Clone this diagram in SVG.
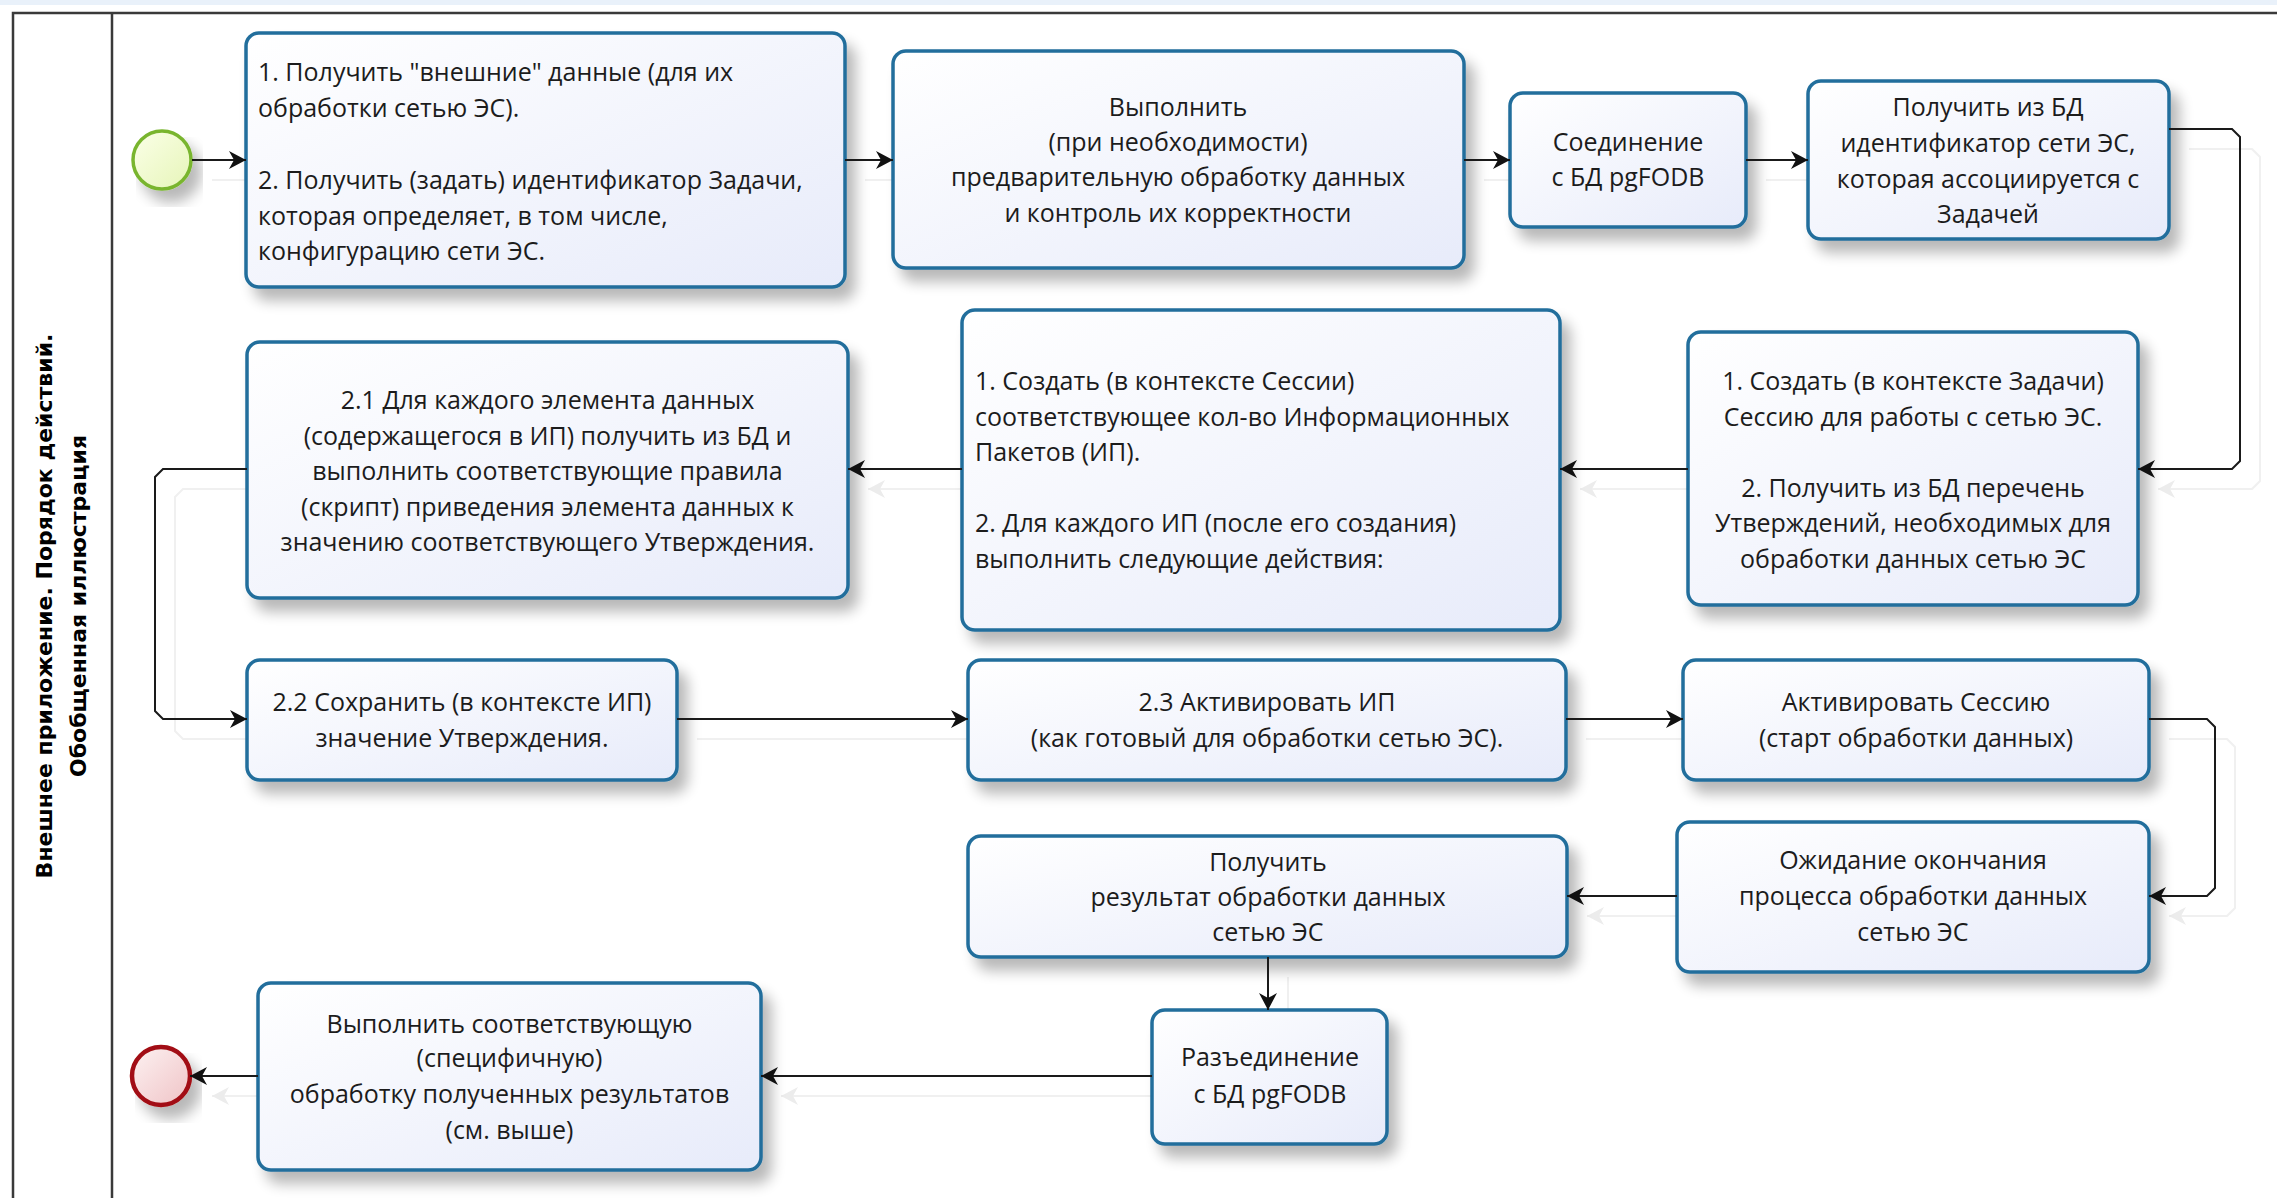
<svg xmlns="http://www.w3.org/2000/svg" width="2277" height="1198" viewBox="0 0 2277 1198">
<defs>
<linearGradient id="nodeFill" x1="0" y1="0" x2="1" y2="1">
<stop offset="0" stop-color="#ffffff"/>
<stop offset="1" stop-color="#e7ebfa"/>
</linearGradient>
<linearGradient id="startFill" x1="0" y1="0" x2="1" y2="1">
<stop offset="0" stop-color="#fbffe8"/>
<stop offset="1" stop-color="#e6f5b8"/>
</linearGradient>
<linearGradient id="endFill" x1="0" y1="0" x2="1" y2="1">
<stop offset="0" stop-color="#fdf2f2"/>
<stop offset="1" stop-color="#efc3c6"/>
</linearGradient>
<filter id="shadow" x="-10%" y="-10%" width="130%" height="140%">
<feGaussianBlur in="SourceAlpha" stdDeviation="7"/>
<feOffset dx="9" dy="12" result="b"/>
<feComponentTransfer><feFuncA type="linear" slope="0.28"/></feComponentTransfer>
<feMerge><feMergeNode/><feMergeNode in="SourceGraphic"/></feMerge>
</filter>
<marker id="arrow" markerUnits="userSpaceOnUse" markerWidth="20" markerHeight="20" viewBox="-18 -10 20 20" refX="0" refY="0" orient="auto">
<path d="M0,0 L-17,-9 L-12,0 L-17,9 Z" fill="#111"/>
</marker>
<marker id="ghostArrow" markerUnits="userSpaceOnUse" markerWidth="20" markerHeight="20" viewBox="-18 -10 20 20" refX="0" refY="0" orient="auto">
<path d="M0,0 L-17,-9 L-12,0 L-17,9 Z" fill="#ececec"/>
</marker>
</defs>
<style>
.node{fill:url(#nodeFill);stroke:#206e9c;stroke-width:3.5;filter:url(#shadow)}
.t{font-family:"Open Sans","Noto Sans",sans-serif;font-size:25px;fill:#1c1c1c}
.c{text-anchor:middle}
.title{font-family:"DejaVu Sans",Verdana,sans-serif;font-size:22px;font-weight:bold;fill:#000;text-anchor:middle}
.conn{fill:none;stroke:#1a1a1a;stroke-width:2;marker-end:url(#arrow)}
.ghost{fill:none;stroke:#f0f0f0;stroke-width:2;marker-end:url(#ghostArrow)}
.frame{stroke:#3a3a3a;stroke-width:2.5;fill:none}
</style>
<rect x="0" y="0" width="2277" height="1198" fill="#ffffff"/>
<rect x="0" y="0" width="2277" height="5" fill="#e9f1fa"/>

<g id="pool">
<path class="frame" d="M13,1198 V13 H2277"/>
<path class="frame" d="M112,13 V1198"/>
<text class="title" transform="translate(52,606) rotate(-90)">Внешнее приложение. Порядок действий.</text>
<text class="title" transform="translate(86,606) rotate(-90)">Обобщенная иллюстрация</text>
</g>

<g id="connector-shadows">
<path class="ghost" d="M212,180 H266"/>
<path class="ghost" d="M865,180 H913"/>
<path class="ghost" d="M1484,180 H1530"/>
<path class="ghost" d="M1766,180 H1828"/>
<path class="ghost" d="M2189,149 H2252 L2260,157 V481 L2252,489 H2158"/>
<path class="ghost" d="M1708,489 H1580"/>
<path class="ghost" d="M982,489 H868"/>
<path class="ghost" d="M267,489 H183 L175,497 V731 L183,739 H267"/>
<path class="ghost" d="M697,739 H988"/>
<path class="ghost" d="M1586,739 H1703"/>
<path class="ghost" d="M2169,739 H2227 L2235,747 V908 L2227,916 H2169"/>
<path class="ghost" d="M1697,916 H1587"/>
<path class="ghost" d="M1288,977 V1030"/>
<path class="ghost" d="M1172,1096 H781"/>
<path class="ghost" d="M278,1096 H212"/>
</g>

<g id="start">
<circle cx="162" cy="160" r="29" fill="url(#startFill)" stroke="#79b52f" stroke-width="3.5" filter="url(#shadow)"/>
</g>
<g id="end">
<circle cx="161" cy="1076" r="29" fill="url(#endFill)" stroke="#a20f12" stroke-width="4.5" filter="url(#shadow)"/>
</g>

<g id="n1">
<rect class="node" x="246" y="33" width="599" height="254" rx="13"/>
<text class="t" x="258" y="81">1. Получить "внешние" данные (для их</text>
<text class="t" x="258" y="116.5">обработки сетью ЭС).</text>
<text class="t" x="258" y="189">2. Получить (задать) идентификатор Задачи,</text>
<text class="t" x="258" y="224.5">которая определяет, в том числе,</text>
<text class="t" x="258" y="260">конфигурацию сети ЭС.</text>
</g>

<g id="n2">
<rect class="node" x="893" y="51" width="571" height="217" rx="13"/>
<text class="t c" x="1178" y="116">Выполнить</text>
<text class="t c" x="1178" y="151">(при необходимости)</text>
<text class="t c" x="1178" y="186">предварительную обработку данных</text>
<text class="t c" x="1178" y="222">и контроль их корректности</text>
</g>

<g id="n3">
<rect class="node" x="1510" y="93" width="236" height="134" rx="13"/>
<text class="t c" x="1628" y="151">Соединение</text>
<text class="t c" x="1628" y="186">с БД pgFODB</text>
</g>

<g id="n4">
<rect class="node" x="1808" y="81" width="361" height="158" rx="13"/>
<text class="t c" x="1988" y="116">Получить из БД</text>
<text class="t c" x="1988" y="152">идентификатор сети ЭС,</text>
<text class="t c" x="1988" y="188">которая ассоциируется с</text>
<text class="t c" x="1988" y="223">Задачей</text>
</g>

<g id="n5">
<rect class="node" x="1688" y="332" width="450" height="273" rx="13"/>
<text class="t c" x="1913" y="390">1. Создать (в контексте Задачи)</text>
<text class="t c" x="1913" y="425.5">Сессию для работы с сетью ЭС.</text>
<text class="t c" x="1913" y="496.5">2. Получить из БД перечень</text>
<text class="t c" x="1913" y="532">Утверждений, необходимых для</text>
<text class="t c" x="1913" y="567.5">обработки данных сетью ЭС</text>
</g>

<g id="n6">
<rect class="node" x="962" y="310" width="598" height="320" rx="13"/>
<text class="t" x="975" y="390">1. Создать (в контексте Сессии)</text>
<text class="t" x="975" y="425.5">соответствующее кол-во Информационных</text>
<text class="t" x="975" y="461">Пакетов (ИП).</text>
<text class="t" x="975" y="532">2. Для каждого ИП (после его создания)</text>
<text class="t" x="975" y="567.5">выполнить следующие действия:</text>
</g>

<g id="n7">
<rect class="node" x="247" y="342" width="601" height="256" rx="13"/>
<text class="t c" x="547.5" y="409">2.1 Для каждого элемента данных</text>
<text class="t c" x="547.5" y="444.5">(содержащегося в ИП) получить из БД и</text>
<text class="t c" x="547.5" y="480">выполнить соответствующие правила</text>
<text class="t c" x="547.5" y="515.5">(скрипт) приведения элемента данных к</text>
<text class="t c" x="547.5" y="551">значению соответствующего Утверждения.</text>
</g>

<g id="n8">
<rect class="node" x="247" y="660" width="430" height="120" rx="13"/>
<text class="t c" x="462" y="711">2.2 Сохранить (в контексте ИП)</text>
<text class="t c" x="462" y="747">значение Утверждения.</text>
</g>

<g id="n9">
<rect class="node" x="968" y="660" width="598" height="120" rx="13"/>
<text class="t c" x="1267" y="711">2.3 Активировать ИП</text>
<text class="t c" x="1267" y="747">(как готовый для обработки сетью ЭС).</text>
</g>

<g id="n10">
<rect class="node" x="1683" y="660" width="466" height="120" rx="13"/>
<text class="t c" x="1916" y="711">Активировать Сессию</text>
<text class="t c" x="1916" y="747">(старт обработки данных)</text>
</g>

<g id="n11">
<rect class="node" x="1677" y="822" width="472" height="150" rx="13"/>
<text class="t c" x="1913" y="869">Ожидание окончания</text>
<text class="t c" x="1913" y="905">процесса обработки данных</text>
<text class="t c" x="1913" y="941">сетью ЭС</text>
</g>

<g id="n12">
<rect class="node" x="968" y="836" width="599" height="121" rx="13"/>
<text class="t c" x="1268" y="871">Получить</text>
<text class="t c" x="1268" y="906">результат обработки данных</text>
<text class="t c" x="1268" y="941">сетью ЭС</text>
</g>

<g id="n13">
<rect class="node" x="1152" y="1010" width="235" height="134" rx="13"/>
<text class="t c" x="1270" y="1066">Разъединение</text>
<text class="t c" x="1270" y="1103">с БД pgFODB</text>
</g>

<g id="n14">
<rect class="node" x="258" y="983" width="503" height="187" rx="13"/>
<text class="t c" x="509.5" y="1033">Выполнить соответствующую</text>
<text class="t c" x="509.5" y="1067">(специфичную)</text>
<text class="t c" x="509.5" y="1103">обработку полученных результатов</text>
<text class="t c" x="509.5" y="1139">(см. выше)</text>
</g>

<g id="connectors">
<path class="conn" d="M192,160 H246"/>
<path class="conn" d="M845,160 H893"/>
<path class="conn" d="M1464,160 H1510"/>
<path class="conn" d="M1746,160 H1808"/>
<path class="conn" d="M2169,129 H2232 L2240,137 V461 L2232,469 H2138"/>
<path class="conn" d="M1688,469 H1560"/>
<path class="conn" d="M962,469 H848"/>
<path class="conn" d="M247,469 H163 L155,477 V711 L163,719 H247"/>
<path class="conn" d="M677,719 H968"/>
<path class="conn" d="M1566,719 H1683"/>
<path class="conn" d="M2149,719 H2207 L2215,727 V888 L2207,896 H2149"/>
<path class="conn" d="M1677,896 H1567"/>
<path class="conn" d="M1268,957 V1010"/>
<path class="conn" d="M1152,1076 H761"/>
<path class="conn" d="M258,1076 H190"/>
</g>
</svg>
